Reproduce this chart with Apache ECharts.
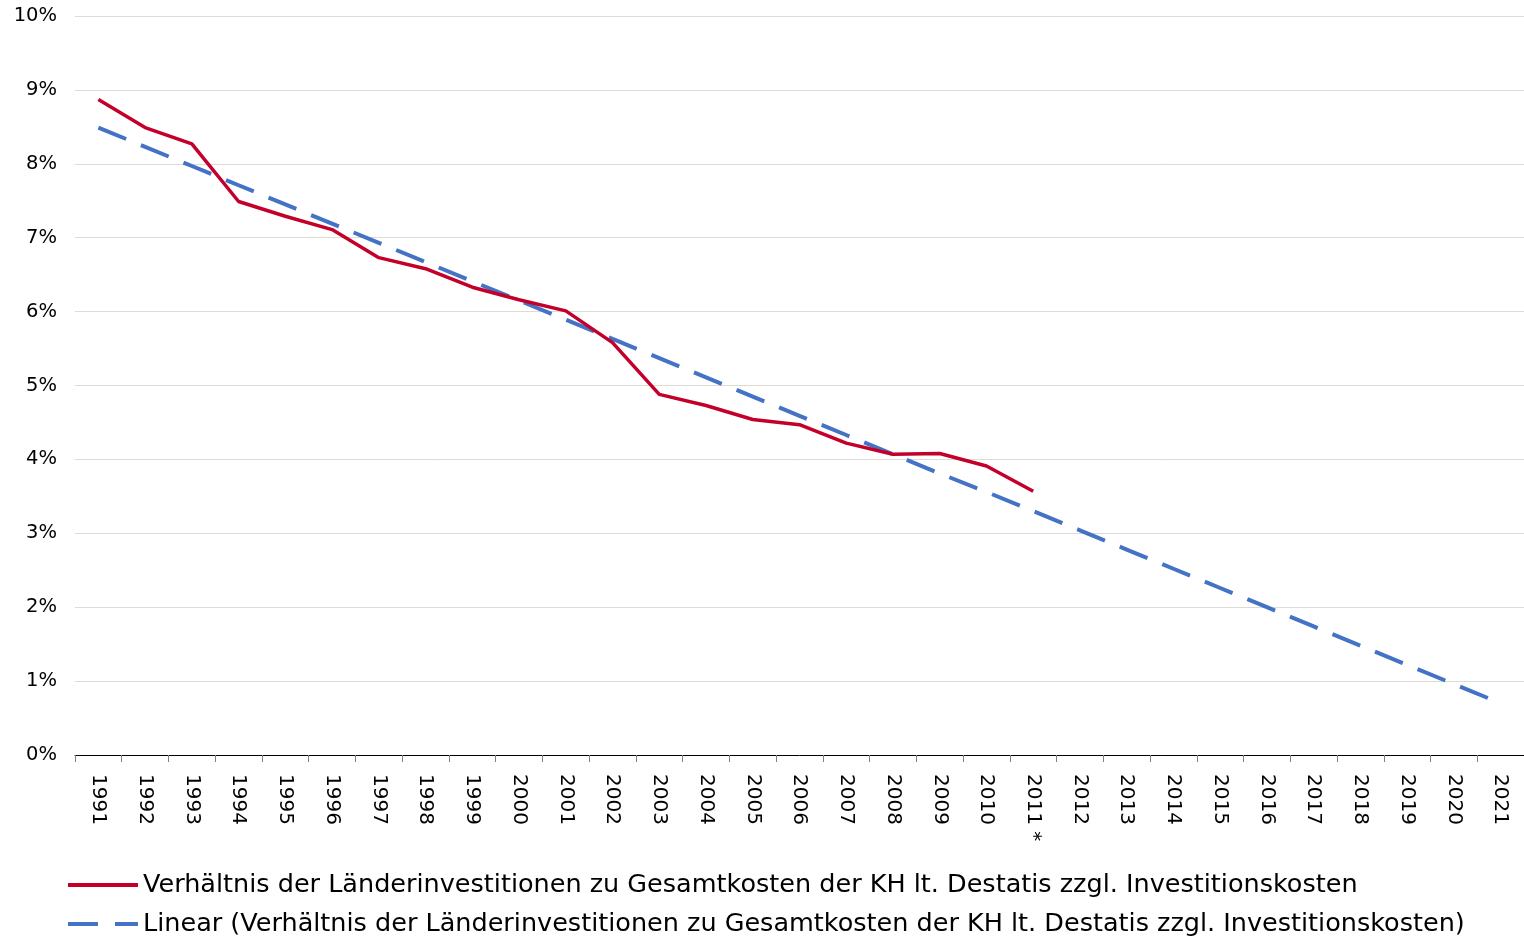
<!DOCTYPE html>
<html>
<head>
<meta charset="utf-8">
<script src="https://cdn.jsdelivr.net/npm/echarts@6.0.0/dist/echarts.min.js"></script>
<style>
  html, body { margin: 0; padding: 0; background: #fff; }
  #chart-container { width: 1524px; height: 944px; }
</style>
</head>
<body>
<div id="chart-container"></div>
<script>
// categories (2011 marked as preliminary)
var years = ['1991', '1992', '1993', '1994', '1995', '1996', '1997', '1998', '1999', '2000',
  '2001', '2002', '2003', '2004', '2005', '2006', '2007', '2008', '2009', '2010',
  '2011 *', '2012', '2013', '2014', '2015', '2016', '2017', '2018', '2019', '2020', '2021'];

// Verhältnis in %, 1991 - 2011
var ratioValues = [8.87, 8.49, 8.27, 7.49, 7.29, 7.11, 6.73, 6.58, 6.33, 6.16,
  6.01, 5.58, 4.88, 4.73, 4.54, 4.47, 4.22, 4.07, 4.08, 3.91, 3.57];

// linear trend as drawn in the picture, 1991 - 2021
var trendValues = [8.49, 8.23, 7.97, 7.71, 7.45, 7.19, 6.93, 6.67, 6.41, 6.15,
  5.89, 5.63, 5.37, 5.11, 4.85, 4.59, 4.33, 4.07, 3.81, 3.56,
  3.30, 3.04, 2.78, 2.52, 2.26, 2.00, 1.74, 1.48, 1.22, 0.96, 0.70];

var seriesNames = [
  'Verhältnis der Länderinvestitionen zu Gesamtkosten der KH lt. Destatis zzgl. Investitionskosten',
  'Linear (Verhältnis der Länderinvestitionen zu Gesamtkosten der KH lt. Destatis zzgl. Investitionskosten)'
];

var yTicks = { min: 0, max: 10, interval: 1 };

var fontFamily = '"DejaVu Sans", sans-serif';

var dom = document.getElementById('chart-container');
var myChart = echarts.init(dom, null, { renderer: 'canvas' });

// one legend per row, so they stack like the original
function legendRow(name, top, lineStyle) {
  return {
    orient: 'vertical',
    left: 66,
    top: top,
    padding: 0,
    itemWidth: 70,
    itemHeight: 14,
    itemGap: 5,
    itemStyle: { opacity: 0 },
    lineStyle: lineStyle,
    textStyle: { fontSize: 25.5, lineHeight: 28, color: '#000', fontFamily: fontFamily },
    data: [name]
  };
}

var option = {
  animation: false,
  backgroundColor: '#fff',
  textStyle: { fontFamily: fontFamily, color: '#000' },
  grid: {
    left: 75,
    top: 16,
    width: 1463,
    height: 739
  },
  legend: [
    legendRow(seriesNames[0], 871, { width: 4, type: 'solid' }),
    legendRow(seriesNames[1], 910, { width: 4, type: [30, 17] })
  ],
  xAxis: {
    type: 'category',
    data: years,
    boundaryGap: true,
    axisLine: { lineStyle: { color: '#000', width: 1 } },
    axisTick: { show: true, length: 7, lineStyle: { color: '#808080' } },
    axisLabel: {
      rotate: -90,
      margin: 19,
      interval: 0,
      fontSize: 20,
      color: '#000',
      fontFamily: fontFamily
    }
  },
  yAxis: {
    type: 'value',
    min: yTicks.min,
    max: yTicks.max,
    interval: yTicks.interval,
    axisLine: { show: false },
    axisTick: { show: false },
    splitLine: { lineStyle: { color: '#dcdcd5', width: 1 } },
    axisLabel: {
      formatter: '{value}%',
      margin: 18,
      padding: [8, 0, 0, 0],
      fontSize: 19.5,
      color: '#000',
      fontFamily: fontFamily
    }
  },
  series: [
    {
      name: seriesNames[0],
      type: 'line',
      data: ratioValues,
      symbol: 'none',
      color: '#C4002A',
      lineStyle: { color: '#C4002A', width: 3.5 },
      z: 3
    },
    {
      name: seriesNames[1],
      type: 'line',
      data: trendValues,
      symbol: 'none',
      color: '#4472C4',
      lineStyle: { color: '#4472C4', width: 4, type: [30, 16] },
      z: 2
    }
  ]
};

myChart.setOption(option);
window.addEventListener('resize', myChart.resize);
</script>
</body>
</html>
